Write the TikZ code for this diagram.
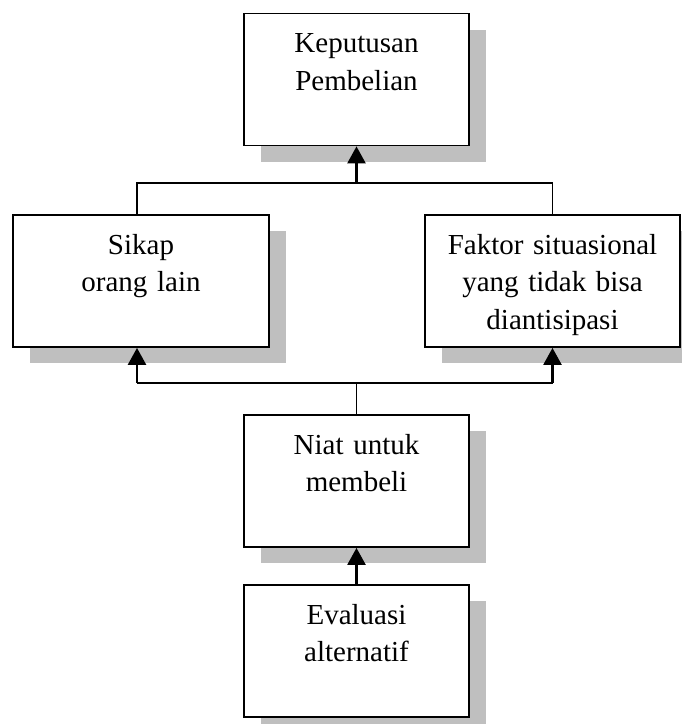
\documentclass[tikz,border=0pt]{standalone}
\usepackage{fontspec}
\setmainfont{Liberation Serif}
\usetikzlibrary{arrows.meta,shadows}

\begin{document}
\begin{tikzpicture}[x=1pt,y=1pt,
  kotak/.style={draw,line width=1.8pt,fill=white,inner sep=0pt,align=center,
    text height=39pt,text depth=93pt,font=\fontsize{29pt}{37.5pt}\selectfont,
    drop shadow={shadow xshift=17pt,shadow yshift=-16pt,fill=black!25,opacity=1}},
  garis/.style={line width=1.3pt},
  panah/.style={line width=2.5pt,-{Triangle[width=18pt,length=17pt]}}]
  \useasboundingbox (0,0) rectangle (682,-724);
  % kotak-kotak
  \node[kotak,text width=225pt] (kp) at (356.5,-79.5) {Keputusan\\Pembelian};
  \node[kotak,text width=256pt] (sk) at (141,-281) {Sikap\\orang lain};
  \node[kotak,text width=255pt] (fs) at (552.5,-281) {Faktor situasional\\yang tidak bisa\\diantisipasi};
  \node[kotak,text width=225pt] (nu) at (356.5,-481) {Niat untuk\\membeli};
  \node[kotak,text width=225pt] (ea) at (356.5,-651) {Evaluasi\\alternatif};
  % garis penghubung
  \coordinate (atas) at (356.5,-183);
  \coordinate (bawah) at (356.5,-383);
  \coordinate (skatas) at ([xshift=-4pt]sk.north);
  \coordinate (skbawah) at ([xshift=-4pt]sk.south);
  \draw[garis] (skatas) |- (atas) -| (fs.north);
  \draw[panah] (atas) -- (kp.south);
  \draw[garis] (nu.north) -- (bawah);
  \draw[garis] (skbawah |- bawah) -- (fs.south |- bawah);
  \draw[panah] (skbawah |- bawah) -- (skbawah);
  \draw[panah] (fs.south |- bawah) -- (fs.south);
  \draw[panah] (ea.north) -- (nu.south);
\end{tikzpicture}
\end{document}
